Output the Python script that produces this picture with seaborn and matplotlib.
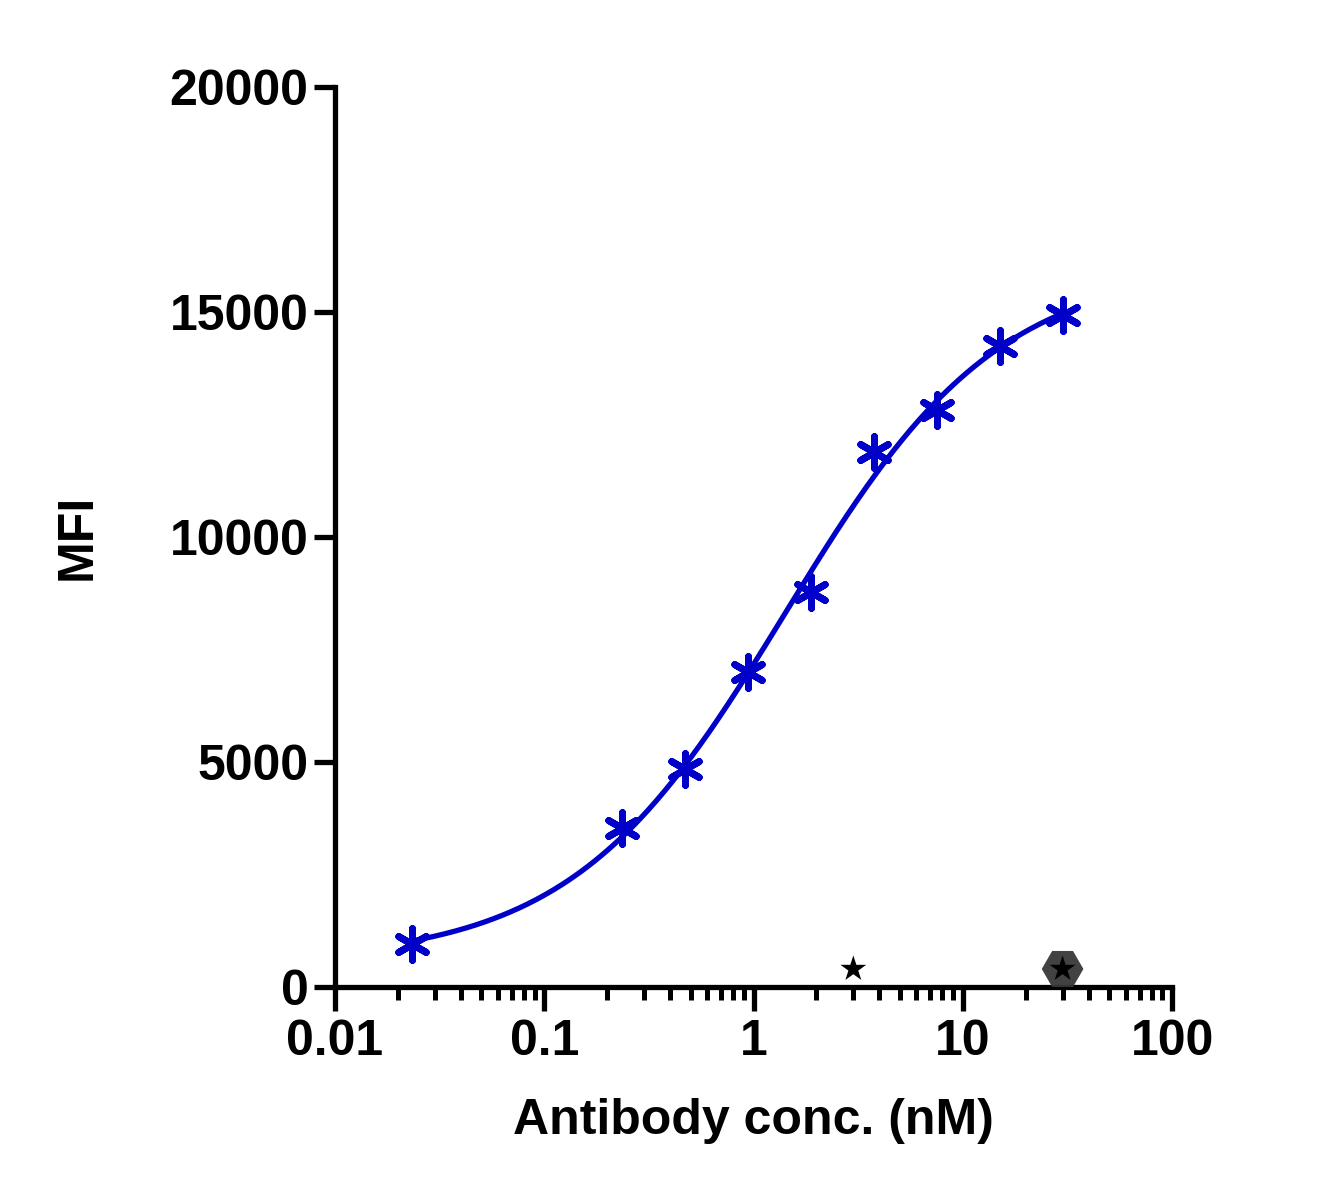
import matplotlib
matplotlib.use("Agg")
import matplotlib.pyplot as plt
import numpy as np
import pandas as pd
import seaborn as sns
from matplotlib.ticker import LogLocator, NullFormatter, FixedLocator

# data
conc = [0.0234, 0.234, 0.469, 0.9375, 1.875, 3.75, 7.5, 15, 30]
mfi = [950, 3530, 4840, 7000, 8780, 11890, 12820, 14240, 14930]
ctrl_conc = [3, 30]
ctrl_mfi = [400, 400]
iso_conc = [30]
iso_mfi = [400]

xticks = [0.01, 0.1, 1, 10, 100]
xtick_labels = ["0.01", "0.1", "1", "10", "100"]
yticks = [0, 5000, 10000, 15000, 20000]

df = pd.DataFrame({"conc": conc, "mfi": mfi})


def four_pl(lx, p):
    bottom, top, logec, hill = p
    return bottom + (top - bottom) / (1 + 10 ** ((logec - lx) * hill))


# simple Levenberg-Marquardt fit of a 4PL curve
lx = np.log10(df["conc"].values)
yy = df["mfi"].values.astype(float)
p = np.array([500.0, 16000.0, 0.1, 1.0])
lam = 1e-2
for _ in range(500):
    r = yy - four_pl(lx, p)
    J = np.zeros((len(lx), 4))
    for k in range(4):
        dp = np.zeros(4)
        dp[k] = 1e-6 * max(abs(p[k]), 1)
        J[:, k] = (four_pl(lx, p + dp) - four_pl(lx, p - dp)) / (2 * dp[k])
    A = J.T @ J
    step = np.linalg.solve(A + lam * np.diag(np.diag(A)), J.T @ r)
    newp = p + step
    if np.sum((yy - four_pl(lx, newp)) ** 2) < np.sum(r ** 2):
        p = newp
        lam *= 0.5
    else:
        lam *= 3
xfit = np.logspace(np.log10(min(conc)), np.log10(max(conc)), 300)
fit = pd.DataFrame({"conc": xfit, "mfi": four_pl(np.log10(xfit), p)})

sns.set_theme(style="ticks")
plt.rcParams["font.family"] = ["Liberation Sans", "DejaVu Sans"]
plt.rcParams["font.weight"] = "bold"
plt.rcParams["text.color"] = "black"
plt.rcParams["axes.labelcolor"] = "black"
plt.rcParams["xtick.color"] = "black"
plt.rcParams["ytick.color"] = "black"

fig = plt.figure(figsize=(13.25, 11.87), dpi=100)
ax = fig.add_axes([335 / 1325, 1 - 987 / 1187, (1172 - 335) / 1325, 900 / 1187])

blue = "#0000C8"
sns.lineplot(data=fit, x="conc", y="mfi", color=blue, linewidth=3.8, ax=ax)
sns.scatterplot(data=df, x="conc", y="mfi", marker=(6, 2, 0), s=520,
                color=blue, edgecolor=blue, linewidth=5, ax=ax, zorder=5)
sns.scatterplot(x=iso_conc, y=iso_mfi, marker="H", s=900, color="#383838",
                edgecolor="none", alpha=0.95, ax=ax, zorder=6)
sns.scatterplot(x=ctrl_conc, y=ctrl_mfi, marker="*", s=380, color="black",
                edgecolor="none", ax=ax, zorder=7)

ax.set_xscale("log")
ax.set_xlim(0.01, 100)
ax.set_ylim(0, 20000)
ax.xaxis.set_major_locator(FixedLocator(xticks))
ax.set_xticklabels(xtick_labels)
ax.xaxis.set_minor_locator(LogLocator(base=10, subs=np.arange(2, 10)))
ax.xaxis.set_minor_formatter(NullFormatter())
ax.set_yticks(yticks)
ax.set_yticklabels([str(v) for v in yticks])

for s in ["top", "right"]:
    ax.spines[s].set_visible(False)
for s in ["left", "bottom"]:
    ax.spines[s].set_linewidth(3.8)
    ax.spines[s].set_color("black")
ax.spines["left"].set_bounds(0, 20000)
ax.tick_params(axis="both", which="major", length=15, width=3.8, color="black",
               labelcolor="black", labelsize=36, pad=4)
ax.tick_params(axis="x", which="major", length=17, pad=6)
ax.tick_params(axis="x", which="minor", length=9, width=3.6, color="black")
for lab in ax.get_xticklabels() + ax.get_yticklabels():
    lab.set_fontweight("bold")

ax.set_xlabel("Antibody conc. (nM)", fontsize=36, fontweight="bold",
              color="black", labelpad=24)
ax.set_ylabel("MFI", fontsize=36, fontweight="bold", color="black", labelpad=50)
ax.set_facecolor("white")
fig.patch.set_facecolor("white")

fig.savefig("out.png", dpi=100)
